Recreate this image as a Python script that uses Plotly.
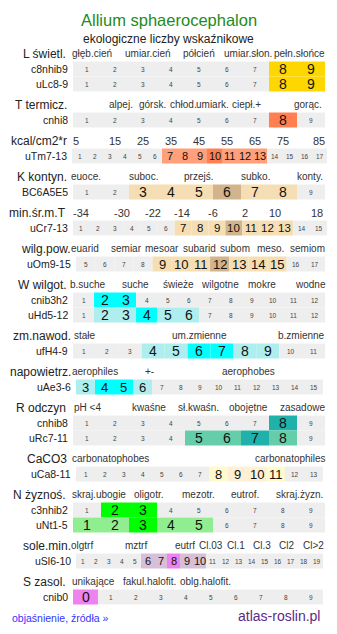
import plotly.graph_objects as go

# ---- data -------------------------------------------------------------
GROUP_NAMES = ["L świetl.", "T termicz.", "kcal/cm2*r", "K kontyn.", "min.śr.m.T",
               "wilg.pow.", "W wilgot.", "zm.nawod.", "napowietrz.", "R odczyn",
               "CaCO3", "N żyznoś.", "sole.min.", "S zasol."]
GROUP_ROW_COUNT = [2, 1, 1, 1, 1, 1, 2, 1, 1, 2, 1, 2, 1, 1]

GROUP_TICKS = [
    ["głęb.cień", "umiar.cień", "półcień", "umiar.słon.", "pełn.słońce"],
    ["alpej.", "górsk.", "chłod.", "umiark.", "ciepł.+", "gorąc."],
    ["5", "15", "25", "35", "45", "55", "65", "75", "85"],
    ["euoce.", "suboc.", "przejś.", "subko.", "konty."],
    ["-34", "-30", "-22", "-14", "-6", "2", "10", "18"],
    ["euarid", "semiar", "mesoar", "subarid", "subom", "meso.", "semiom"],
    ["b.suche", "suche", "świeże", "wilgotne", "mokre", "wodne"],
    ["stałe", "um.zmienne", "b.zmienne"],
    ["aerophiles", "+-", "aerophobes"],
    ["pH <4", "kwaśne", "sł.kwaśn.", "obojętne", "zasadowe"],
    ["carbonatophobes", "carbonatophiles"],
    ["skraj.ubogie", "oligotr.", "mezotr.", "eutrof.", "skraj.żyzn."],
    ["olgtrf", "mztrf", "eutrf", "Cl.03", "Cl.1", "Cl.3", "Cl2", "Cl>2"],
    ["unikające", "fakul.halofit.", "oblg.halofit."],
]

ROW_LABELS = ["c8nhib9", "uLc8-9", "cnhi8", "uTm7-13", "BC6A5E5", "uCr7-13",
              "uOm9-15", "cnib3h2", "uHd5-12", "ufH4-9", "uAe3-6", "cnhib8",
              "uRc7-11", "uCa8-11", "c3nhib2", "uNt1-5", "uSl6-10", "cnib0"]
SCALE_FIRST = [1, 1, 1, 1, 1, 1, 5, 1, 1, 1, 3, 1, 1, 1, 1, 1, 1, 0]
SCALE_LAST = [9, 9, 9, 17, 9, 15, 17, 12, 12, 11, 15, 9, 9, 13, 9, 9, 19, 9]
LIGHT_VALUES = [[], [], [], [7, 8, 9, 11, 12, 13], [3, 4, 5, 7, 8],
                [7, 8, 9, 11, 12, 13], [9, 10, 11, 13, 14, 15], [], [2, 3, 5, 6],
                [4, 5, 8, 9], [3, 6], [], [5, 6, 8], [8, 11], [], [1, 2, 4, 5],
                [6, 7, 9, 10], []]
STRONG_VALUES = [[8, 9], [8, 9], [8], [10], [6], [10], [12], [2, 3], [4], [6, 7],
                 [4, 5], [8], [7], [9, 10], [2, 3], [3], [8], [0]]

# ---- layout / style ---------------------------------------------------
GROUP_TICK_X = [
    [92, 148, 199, 248, 299],
    [121, 152, 183, 212, 246, 308],
    [76, 115, 143, 171, 199, 227, 255, 283, 319],
    [86, 143, 198, 255, 310],
    [81, 122, 153, 182, 213, 245, 275, 317],
    [85, 126, 162, 199, 235, 270, 307],
    [87, 135, 178, 220, 262, 310],
    [85, 199, 301],
    [95, 149, 248],
    [87, 149, 198, 248, 302],
    [110, 290],
    [99, 148, 198, 245, 299],
    [82, 136, 185, 211, 236, 262, 286, 313],
    [93, 149, 205],
]
GROUP_LABEL_RIGHT = [67, 68, 68, 68, 67, 72, 68, 72, 72, 67, 68, 67, 72, 67]
NUMERIC_TICKS = {2, 4}

ROW_X0 = [73, 73, 73, 72, 73, 73, 76, 73, 73, 73, 76, 73, 73, 76, 73, 73, 76, 73]
ROW_X1 = [325, 325, 325, 327, 325, 327, 325, 325, 325, 325, 323, 325, 325, 323,
          325, 325, 323, 323]

GROUP_LIGHT = ["#ffd700", "#ffa07a", "#ffa07a", "#f5deb3", "#f5deb3", "#f5deb3",
               "#afeeee", "#afeeee", "#afeeee", "#66cdaa", "#fffacd", "#90ee90",
               "#d8bfd8", "#ee82ee"]
GROUP_STRONG = ["#ffd700", "#ff7f50", "#ff7f50", "#d2b48c", "#d2b48c", "#d2b48c",
                "#00ffff", "#00ffff", "#00ffff", "#20b2aa", "#ffefd5", "#00ff00",
                "#ee82ee", "#ee82ee"]

FONT = "Liberation Sans, Arial, sans-serif"
GRID_BG = "#eeeeee"

fig = go.Figure()
shapes = []
ann = []


def text(x, y, s, size, color="#222", anchor="center"):
    ann.append(dict(x=x, y=y, xref="x", yref="y", text=s, showarrow=False,
                    xanchor=anchor, yanchor="middle",
                    font=dict(family=FONT, size=size, color=color)))


def marked_size(w):
    if w >= 21:
        return 14
    if w >= 18:
        return 13
    if w >= 16:
        return 11.5
    return 11


# title block
text(168.5, 20, "Allium sphaerocephalon", 16.5, "#228b22")
text(168, 38.5, "ekologiczne liczby wskaźnikowe", 12, "#222")

y = 53.5
row = 0
for g, name in enumerate(GROUP_NAMES):
    text(GROUP_LABEL_RIGHT[g] + 1, y, name, 12, "#222", "right")
    tsize = 11 if g in NUMERIC_TICKS else 10
    for lab, tx in zip(GROUP_TICKS[g], GROUP_TICK_X[g]):
        text(tx, y, lab, tsize, "#333")
    ry = y + 15.5
    for k in range(GROUP_ROW_COUNT[g]):
        x0, x1 = ROW_X0[row], ROW_X1[row]
        vals = list(range(SCALE_FIRST[row], SCALE_LAST[row] + 1))
        w = (x1 - x0) / len(vals)
        text(x0 - 3, ry, ROW_LABELS[row], 10.5, "#222", "right")
        for i, v in enumerate(vals):
            cx0 = x0 + i * w
            if v in STRONG_VALUES[row]:
                fill, marked = GROUP_STRONG[g], True
            elif v in LIGHT_VALUES[row]:
                fill, marked = GROUP_LIGHT[g], True
            else:
                fill, marked = GRID_BG, False
            shapes.append(dict(type="rect", xref="x", yref="y", x0=cx0, x1=cx0 + w,
                               y0=ry - 7.5, y1=ry + 7.5, fillcolor=fill,
                               line=dict(width=0), layer="below"))
            if marked:
                text(cx0 + w / 2, ry, str(v), marked_size(w), "#111")
            else:
                text(cx0 + w / 2, ry, str(v), 6.5, "#444")
        ry += 15
        row += 1
    y = ry - 15 + 20.5

# footer
text(10, 618, "objaśnienie, źródła »", 10.5, "#3333ff", "left")
text(322, 616, "atlas-roslin.pl", 14, "#5b2a86", "right")

fig.update_layout(
    width=337, height=634,
    margin=dict(l=0, r=0, t=0, b=0),
    paper_bgcolor="white", plot_bgcolor="white",
    xaxis=dict(range=[0, 337], visible=False, fixedrange=True),
    yaxis=dict(range=[634, 0], visible=False, fixedrange=True),
    shapes=shapes, annotations=ann, showlegend=False,
)
fig.write_html("out.html", config={"displayModeBar": False})
